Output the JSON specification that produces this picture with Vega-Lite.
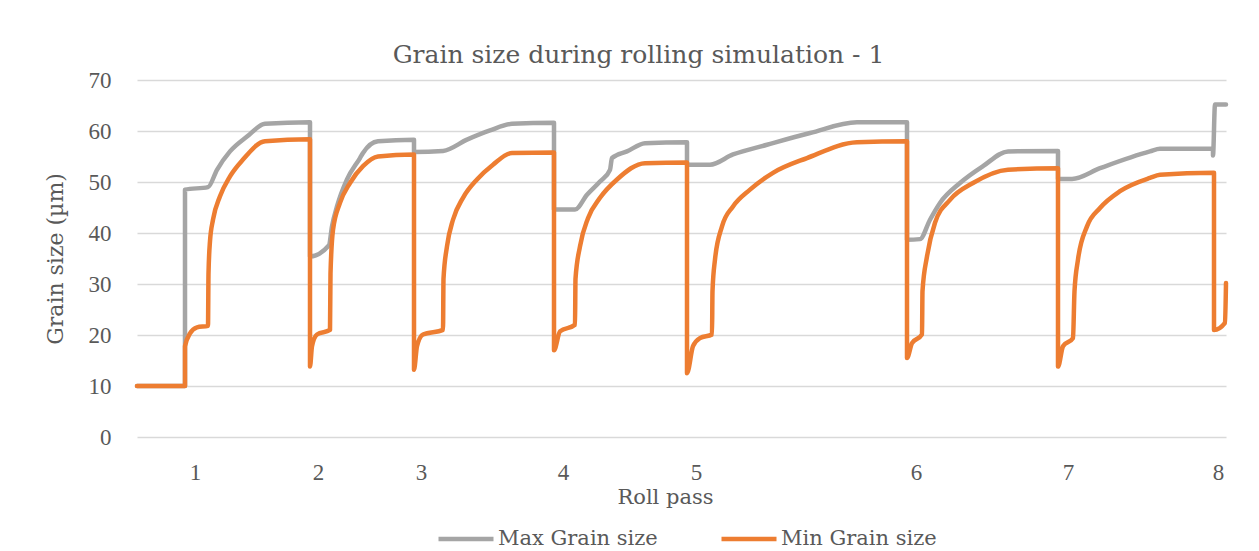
{
  "$schema": "https://vega.github.io/schema/vega-lite/v6.json",
  "width": 1089,
  "height": 357,
  "autosize": {"type": "none"},
  "padding": {"left": 137, "top": 80, "right": 33, "bottom": 114},
  "background": "white",
  "title": {
    "text": "Grain size during rolling simulation - 1",
    "font": "DejaVu Serif",
    "fontSize": 25,
    "fontWeight": "normal",
    "color": "#595959",
    "anchor": "middle",
    "dx": -43,
    "dy": 37,
    "baseline": "alphabetic",
    "offset": 18
  },
  "config": {
    "view": {"stroke": null},
    "axis": {"labelColor": "#595959", "titleColor": "#595959", "titleFontWeight": "normal"}
  },
  "data": {
    "values": [
      {"s": "Max Grain size", "i": 1, "t": 0, "v": 10},
      {"s": "Max Grain size", "i": 2, "t": 48, "v": 10},
      {"s": "Max Grain size", "i": 3, "t": 48, "v": 48.5},
      {"s": "Max Grain size", "i": 4, "t": 71, "v": 49.0},
      {"s": "Max Grain size", "i": 5, "t": 80, "v": 52.4},
      {"s": "Max Grain size", "i": 6, "t": 93, "v": 56.0},
      {"s": "Max Grain size", "i": 7, "t": 110, "v": 58.9},
      {"s": "Max Grain size", "i": 8, "t": 128, "v": 61.4},
      {"s": "Max Grain size", "i": 9, "t": 173, "v": 61.7},
      {"s": "Max Grain size", "i": 10, "t": 173, "v": 35.4},
      {"s": "Max Grain size", "i": 11, "t": 192, "v": 37.6},
      {"s": "Max Grain size", "i": 12, "t": 195, "v": 41.3},
      {"s": "Max Grain size", "i": 13, "t": 200, "v": 45.2},
      {"s": "Max Grain size", "i": 14, "t": 210, "v": 50.5},
      {"s": "Max Grain size", "i": 15, "t": 223, "v": 54.7},
      {"s": "Max Grain size", "i": 16, "t": 226, "v": 55.7},
      {"s": "Max Grain size", "i": 17, "t": 241, "v": 58.0},
      {"s": "Max Grain size", "i": 18, "t": 277, "v": 58.3},
      {"s": "Max Grain size", "i": 19, "t": 277, "v": 55.9},
      {"s": "Max Grain size", "i": 20, "t": 306, "v": 56.1},
      {"s": "Max Grain size", "i": 21, "t": 330, "v": 58.3},
      {"s": "Max Grain size", "i": 22, "t": 353, "v": 60.1},
      {"s": "Max Grain size", "i": 23, "t": 375, "v": 61.4},
      {"s": "Max Grain size", "i": 24, "t": 417, "v": 61.6},
      {"s": "Max Grain size", "i": 25, "t": 417, "v": 44.6},
      {"s": "Max Grain size", "i": 26, "t": 438, "v": 44.6},
      {"s": "Max Grain size", "i": 27, "t": 450, "v": 47.5},
      {"s": "Max Grain size", "i": 28, "t": 463, "v": 50.1},
      {"s": "Max Grain size", "i": 29, "t": 473, "v": 52.4},
      {"s": "Max Grain size", "i": 30, "t": 475, "v": 54.7},
      {"s": "Max Grain size", "i": 31, "t": 490, "v": 56.0},
      {"s": "Max Grain size", "i": 32, "t": 508, "v": 57.6},
      {"s": "Max Grain size", "i": 33, "t": 550, "v": 57.8},
      {"s": "Max Grain size", "i": 34, "t": 550, "v": 53.4},
      {"s": "Max Grain size", "i": 35, "t": 573, "v": 53.4},
      {"s": "Max Grain size", "i": 36, "t": 596, "v": 55.4},
      {"s": "Max Grain size", "i": 37, "t": 630, "v": 57.3},
      {"s": "Max Grain size", "i": 38, "t": 673, "v": 59.6},
      {"s": "Max Grain size", "i": 39, "t": 720, "v": 61.7},
      {"s": "Max Grain size", "i": 40, "t": 770, "v": 61.7},
      {"s": "Max Grain size", "i": 41, "t": 770, "v": 38.7},
      {"s": "Max Grain size", "i": 42, "t": 783, "v": 38.8},
      {"s": "Max Grain size", "i": 43, "t": 793, "v": 42.6},
      {"s": "Max Grain size", "i": 44, "t": 803, "v": 45.9},
      {"s": "Max Grain size", "i": 45, "t": 823, "v": 49.8},
      {"s": "Max Grain size", "i": 46, "t": 846, "v": 53.1},
      {"s": "Max Grain size", "i": 47, "t": 871, "v": 56.0},
      {"s": "Max Grain size", "i": 48, "t": 921, "v": 56.1},
      {"s": "Max Grain size", "i": 49, "t": 921, "v": 50.6},
      {"s": "Max Grain size", "i": 50, "t": 935, "v": 50.6},
      {"s": "Max Grain size", "i": 51, "t": 963, "v": 52.7},
      {"s": "Max Grain size", "i": 52, "t": 1013, "v": 56.0},
      {"s": "Max Grain size", "i": 53, "t": 1023, "v": 56.5},
      {"s": "Max Grain size", "i": 54, "t": 1076, "v": 56.5},
      {"s": "Max Grain size", "i": 55, "t": 1076, "v": 55.2},
      {"s": "Max Grain size", "i": 56, "t": 1078, "v": 65.2},
      {"s": "Max Grain size", "i": 57, "t": 1089, "v": 65.2},

      {"s": "Min Grain size", "i": 1, "t": 0, "v": 10},
      {"s": "Min Grain size", "i": 2, "t": 48, "v": 10},
      {"s": "Min Grain size", "i": 3, "t": 48, "v": 17.8},
      {"s": "Min Grain size", "i": 4, "t": 53, "v": 20.3},
      {"s": "Min Grain size", "i": 5, "t": 60, "v": 21.5},
      {"s": "Min Grain size", "i": 6, "t": 71, "v": 21.8},
      {"s": "Min Grain size", "i": 7, "t": 71.5, "v": 32.0},
      {"s": "Min Grain size", "i": 8, "t": 73, "v": 38.4},
      {"s": "Min Grain size", "i": 9, "t": 76, "v": 42.6},
      {"s": "Min Grain size", "i": 10, "t": 83, "v": 47.2},
      {"s": "Min Grain size", "i": 11, "t": 93, "v": 51.1},
      {"s": "Min Grain size", "i": 12, "t": 106, "v": 54.4},
      {"s": "Min Grain size", "i": 13, "t": 128, "v": 58.0},
      {"s": "Min Grain size", "i": 14, "t": 173, "v": 58.4},
      {"s": "Min Grain size", "i": 15, "t": 173, "v": 13.8},
      {"s": "Min Grain size", "i": 16, "t": 175, "v": 17.8},
      {"s": "Min Grain size", "i": 17, "t": 180, "v": 20.1},
      {"s": "Min Grain size", "i": 18, "t": 193, "v": 21.0},
      {"s": "Min Grain size", "i": 19, "t": 193.5, "v": 32.0},
      {"s": "Min Grain size", "i": 20, "t": 196, "v": 40.6},
      {"s": "Min Grain size", "i": 21, "t": 203, "v": 45.9},
      {"s": "Min Grain size", "i": 22, "t": 213, "v": 49.8},
      {"s": "Min Grain size", "i": 23, "t": 226, "v": 53.1},
      {"s": "Min Grain size", "i": 24, "t": 241, "v": 55.0},
      {"s": "Min Grain size", "i": 25, "t": 277, "v": 55.4},
      {"s": "Min Grain size", "i": 26, "t": 277, "v": 13.2},
      {"s": "Min Grain size", "i": 27, "t": 280, "v": 17.8},
      {"s": "Min Grain size", "i": 28, "t": 286, "v": 20.1},
      {"s": "Min Grain size", "i": 29, "t": 306, "v": 21.0},
      {"s": "Min Grain size", "i": 30, "t": 306.5, "v": 31.0},
      {"s": "Min Grain size", "i": 31, "t": 310, "v": 37.4},
      {"s": "Min Grain size", "i": 32, "t": 316, "v": 42.6},
      {"s": "Min Grain size", "i": 33, "t": 326, "v": 46.9},
      {"s": "Min Grain size", "i": 34, "t": 340, "v": 50.5},
      {"s": "Min Grain size", "i": 35, "t": 356, "v": 53.4},
      {"s": "Min Grain size", "i": 36, "t": 375, "v": 55.7},
      {"s": "Min Grain size", "i": 37, "t": 417, "v": 55.8},
      {"s": "Min Grain size", "i": 38, "t": 417, "v": 17.0},
      {"s": "Min Grain size", "i": 39, "t": 423, "v": 20.7},
      {"s": "Min Grain size", "i": 40, "t": 438, "v": 22.0},
      {"s": "Min Grain size", "i": 41, "t": 438.5, "v": 31.0},
      {"s": "Min Grain size", "i": 42, "t": 443, "v": 37.4},
      {"s": "Min Grain size", "i": 43, "t": 451, "v": 42.9},
      {"s": "Min Grain size", "i": 44, "t": 463, "v": 46.9},
      {"s": "Min Grain size", "i": 45, "t": 480, "v": 50.5},
      {"s": "Min Grain size", "i": 46, "t": 508, "v": 53.7},
      {"s": "Min Grain size", "i": 47, "t": 550, "v": 53.8},
      {"s": "Min Grain size", "i": 48, "t": 550, "v": 12.5},
      {"s": "Min Grain size", "i": 49, "t": 556, "v": 17.8},
      {"s": "Min Grain size", "i": 50, "t": 563, "v": 19.4},
      {"s": "Min Grain size", "i": 51, "t": 575, "v": 20.1},
      {"s": "Min Grain size", "i": 52, "t": 575.5, "v": 28.6},
      {"s": "Min Grain size", "i": 53, "t": 578, "v": 34.8},
      {"s": "Min Grain size", "i": 54, "t": 585, "v": 41.3},
      {"s": "Min Grain size", "i": 55, "t": 596, "v": 45.2},
      {"s": "Min Grain size", "i": 56, "t": 613, "v": 48.5},
      {"s": "Min Grain size", "i": 57, "t": 636, "v": 51.8},
      {"s": "Min Grain size", "i": 58, "t": 670, "v": 54.7},
      {"s": "Min Grain size", "i": 59, "t": 720, "v": 57.8},
      {"s": "Min Grain size", "i": 60, "t": 770, "v": 58.0},
      {"s": "Min Grain size", "i": 61, "t": 770, "v": 15.5},
      {"s": "Min Grain size", "i": 62, "t": 775, "v": 18.4},
      {"s": "Min Grain size", "i": 63, "t": 785, "v": 20.1},
      {"s": "Min Grain size", "i": 64, "t": 785.5, "v": 28.6},
      {"s": "Min Grain size", "i": 65, "t": 790, "v": 35.4},
      {"s": "Min Grain size", "i": 66, "t": 798, "v": 42.0},
      {"s": "Min Grain size", "i": 67, "t": 813, "v": 46.5},
      {"s": "Min Grain size", "i": 68, "t": 836, "v": 49.8},
      {"s": "Min Grain size", "i": 69, "t": 871, "v": 52.4},
      {"s": "Min Grain size", "i": 70, "t": 921, "v": 52.7},
      {"s": "Min Grain size", "i": 71, "t": 921, "v": 13.8},
      {"s": "Min Grain size", "i": 72, "t": 926, "v": 17.8},
      {"s": "Min Grain size", "i": 73, "t": 936, "v": 19.4},
      {"s": "Min Grain size", "i": 74, "t": 937.5, "v": 28.6},
      {"s": "Min Grain size", "i": 75, "t": 941, "v": 34.8},
      {"s": "Min Grain size", "i": 76, "t": 950, "v": 41.3},
      {"s": "Min Grain size", "i": 77, "t": 963, "v": 44.9},
      {"s": "Min Grain size", "i": 78, "t": 983, "v": 48.2},
      {"s": "Min Grain size", "i": 79, "t": 1013, "v": 50.8},
      {"s": "Min Grain size", "i": 80, "t": 1023, "v": 51.4},
      {"s": "Min Grain size", "i": 81, "t": 1077, "v": 51.8},
      {"s": "Min Grain size", "i": 82, "t": 1077, "v": 21.0},
      {"s": "Min Grain size", "i": 83, "t": 1088, "v": 22.4},
      {"s": "Min Grain size", "i": 84, "t": 1089, "v": 30.2}
    ]
  },
  "mark": {"type": "line", "strokeWidth": 4.5, "strokeCap": "round", "strokeJoin": "round", "clip": false, "interpolate": "monotone"},
  "encoding": {
    "x": {
      "field": "t",
      "type": "quantitative",
      "scale": {"domain": [0, 1089], "nice": false, "zero": false},
      "axis": {
        "title": "Roll pass",
        "values": [58, 181, 284, 426, 559, 779, 931, 1081],
        "labelExpr": "indexof([58, 181, 284, 426, 559, 779, 931, 1081], datum.value) + 1",
        "grid": false,
        "domain": false,
        "ticks": false,
        "labelFont": "Liberation Serif",
        "labelFontSize": 23,
        "labelPadding": 24,
        "labelFlush": false,
        "titleFont": "DejaVu Serif",
        "titleFontSize": 21,
        "titleX": 528,
        "titleY": 66,
        "titleBaseline": "alphabetic",
        "titleAlign": "center"
      }
    },
    "y": {
      "field": "v",
      "type": "quantitative",
      "scale": {"domain": [0, 70], "nice": false},
      "axis": {
        "title": "Grain size (µm)",
        "values": [0, 10, 20, 30, 40, 50, 60, 70],
        "grid": true,
        "gridColor": "#D9D9D9",
        "gridWidth": 1.5,
        "domain": false,
        "ticks": false,
        "labelFont": "Liberation Serif",
        "labelFontSize": 23,
        "labelPadding": 26,
        "titleFont": "DejaVu Serif",
        "titleFontSize": 22,
        "titleAngle": -90,
        "titleX": -82,
        "titleY": 178.5,
        "titleBaseline": "middle",
        "titleAlign": "center"
      }
    },
    "color": {
      "field": "s",
      "type": "nominal",
      "scale": {"domain": ["Max Grain size", "Min Grain size"], "range": ["#A5A5A5", "#ED7D31"]},
      "legend": {
        "title": null,
        "orient": "none",
        "legendX": 299,
        "legendY": 429,
        "direction": "horizontal",
        "symbolType": "stroke",
        "symbolSize": 3025,
        "symbolStrokeWidth": 4.5,
        "labelFont": "DejaVu Serif",
        "labelFontSize": 21,
        "labelColor": "#595959",
        "labelOffset": 2,
        "columnPadding": 54
      }
    },
    "order": {"field": "i", "type": "quantitative"}
  }
}
